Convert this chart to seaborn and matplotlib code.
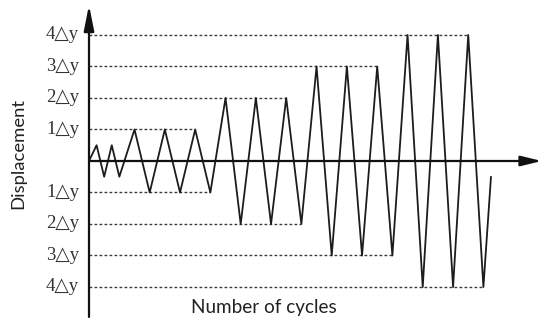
import matplotlib
matplotlib.use("Agg")
import matplotlib.pyplot as plt
import seaborn as sns
import pandas as pd

# ---- data ----
cycle_time = [0, 0.5, 1, 1.5, 2,
              3, 4, 5, 6, 7, 8,
              9, 10, 11, 12, 13, 14,
              15, 16, 17, 18, 19, 20,
              21, 22, 23, 24, 25, 26, 26.5]
displacement = [0, 0.5, -0.5, 0.5, -0.5,
                1, -1, 1, -1, 1, -1,
                2, -2, 2, -2, 2, -2,
                3, -3, 3, -3, 3, -3,
                4, -4, 4, -4, 4, -4, -0.5]
levels_pos = [1, 2, 3, 4]
levels_pos_end = [7, 13, 19, 25]
levels_neg = [-1, -2, -3, -4]
levels_neg_end = [8, 14, 20, 26]
level_labels = ["1△y", "2△y", "3△y", "4△y"]

sns.set_theme(style="white")
plt.rcParams['font.family'] = ['Liberation Serif', 'DejaVu Sans']

fig = plt.figure(figsize=(5.5, 3.27), dpi=100)
ax = fig.add_axes([0, 0, 1, 1])
ax.set_xlim(-5.867, 30.39)
ax.set_ylim(-5.27, 5.111)
ax.axis("off")

line_col = "#1c1c1c"

# dashed reference lines
for lv, end in zip(levels_pos + levels_neg, levels_pos_end + levels_neg_end):
    ax.plot([0, end], [lv, lv], color="#3a3a3a", lw=1.0,
            linestyle=(0, (2.0, 1.6)), zorder=1)

# zigzag protocol
df = pd.DataFrame({"t": cycle_time, "d": displacement})
sns.lineplot(data=df, x="t", y="d", sort=False, estimator=None,
             color=line_col, lw=1.3, ax=ax, zorder=3)

# axes with arrows
ax.annotate("", xy=(29.84, 0), xytext=(0, 0),
            arrowprops=dict(arrowstyle="-|>,head_length=0.9,head_width=0.22",
                            color="#111111", lw=1.6, mutation_scale=14,
                            shrinkA=0, shrinkB=0), zorder=4)
ax.annotate("", xy=(0, 4.95), xytext=(0, -4.95),
            arrowprops=dict(arrowstyle="-|>,head_length=1.1,head_width=0.22",
                            color="#111111", lw=1.6, mutation_scale=14,
                            shrinkA=0, shrinkB=0), zorder=4)

# level labels
for lv, lab in zip(levels_pos, level_labels):
    ax.text(-0.65, lv, lab, ha="right", va="center", fontsize=13.5,
            color="#333333", family=['Liberation Serif', 'DejaVu Sans'])
for lv, lab in zip(levels_neg, level_labels):
    ax.text(-0.65, lv, lab, ha="right", va="center", fontsize=13.5,
            color="#333333", family=['Liberation Serif', 'DejaVu Sans'])

# axis titles
fig.text(18.5 / 550, 1 - 153 / 327, "Displacement", rotation=90,
         ha="center", va="center", fontsize=13.3, color="#222222",
         family=['Lato', 'DejaVu Sans'])
fig.text(264 / 550, 1 - 308 / 327, "Number of cycles",
         ha="center", va="center", fontsize=13.6, color="#222222",
         family=['Lato', 'DejaVu Sans'])

fig.savefig("out.png", dpi=100)
